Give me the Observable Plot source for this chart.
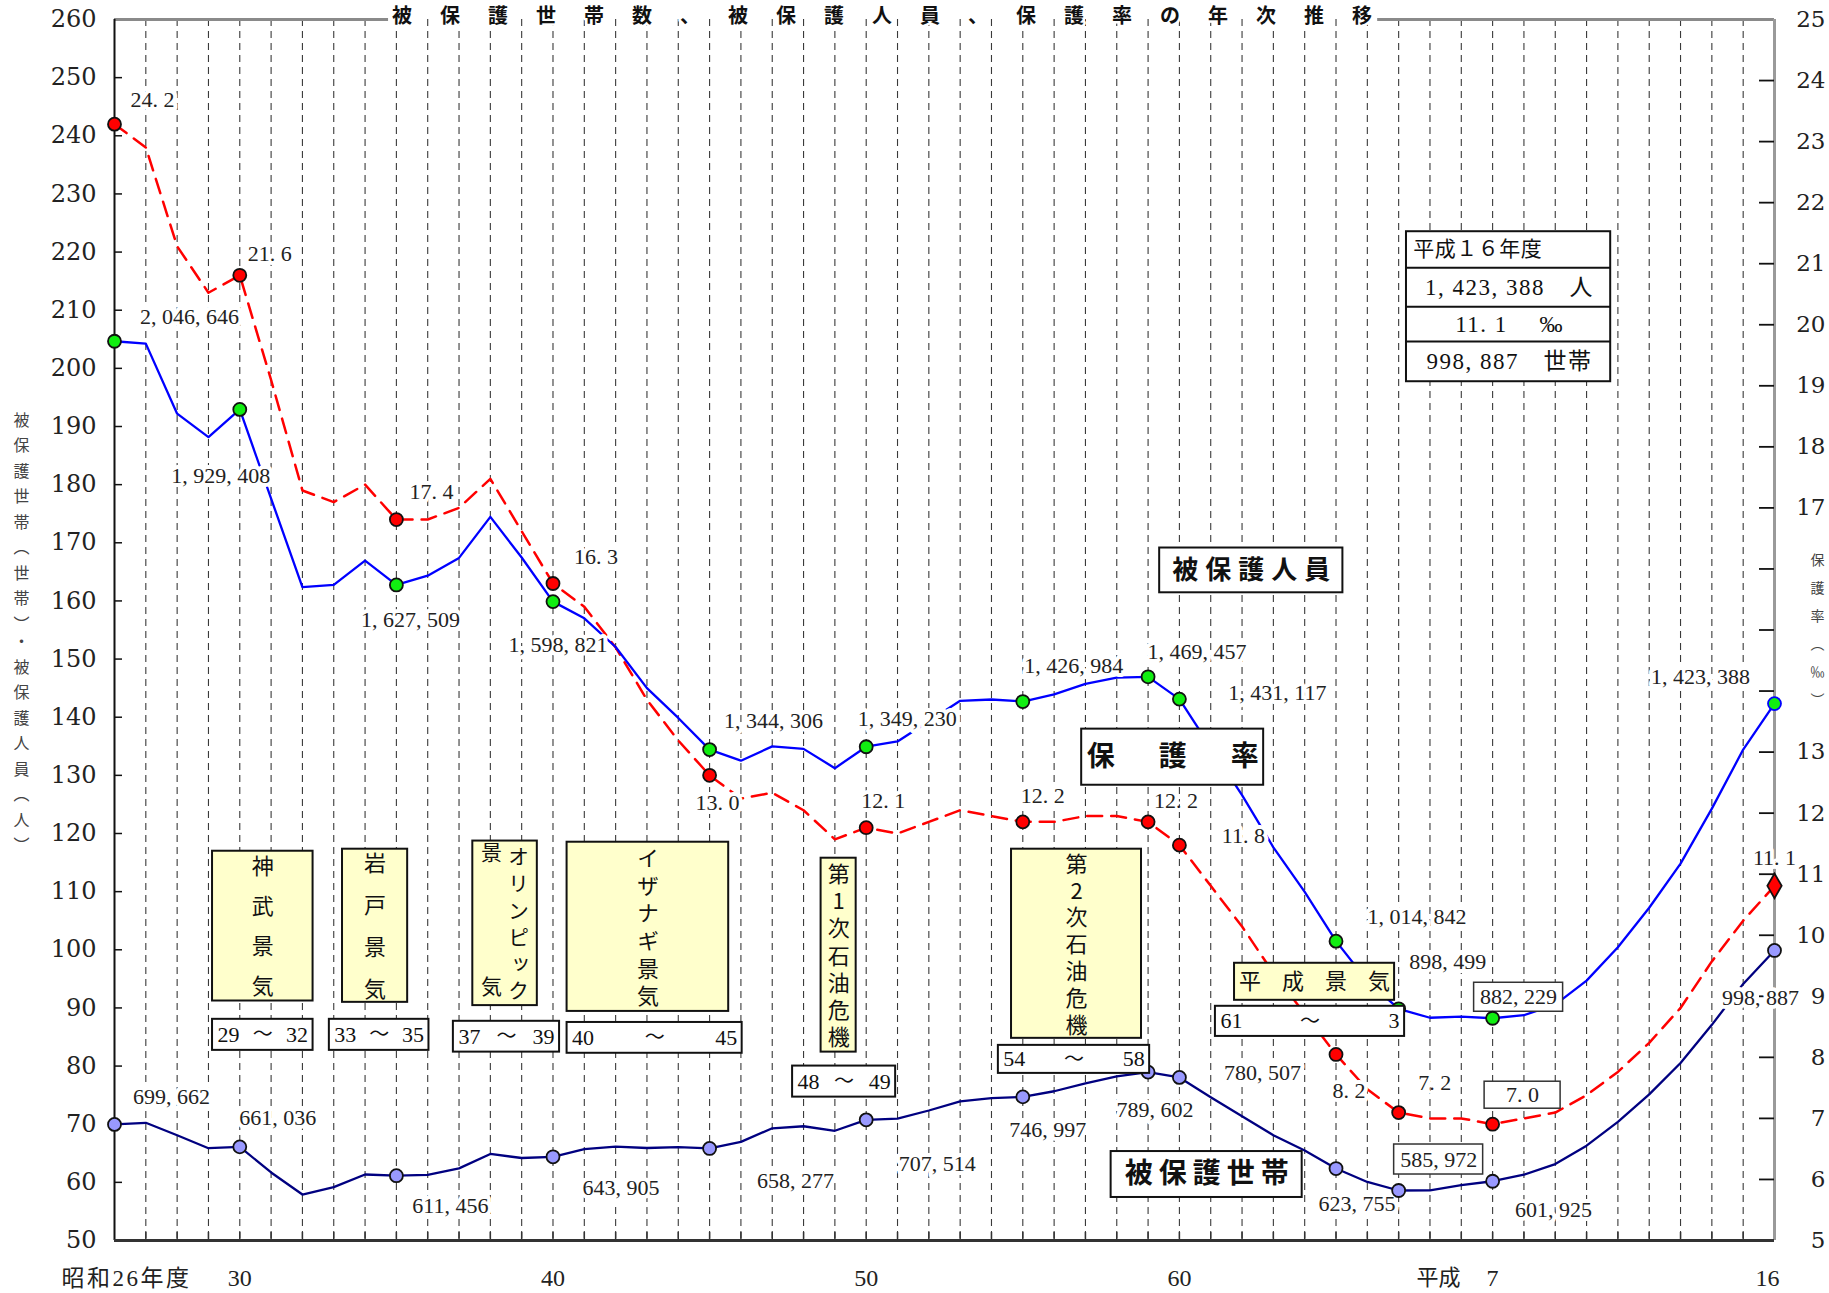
<!DOCTYPE html>
<html>
<head>
<meta charset="utf-8">
<script src="https://cdn.jsdelivr.net/npm/d3@7"></script>
<script src="https://cdn.jsdelivr.net/npm/@observablehq/plot@0.6"></script>
<style>
html,body{margin:0;padding:0;background:#fff;}
#chart svg{display:block;}
</style>
</head>
<body>
<div id="chart"></div>
<script>
// ================= DATA =================
// fiscal years on the Showa count: 26 (1951) ... 64 = Heisei 1 ... 79 = Heisei 16 (2004)
const years = d3.range(26, 80);

// 被保護人員 (persons)
const persons = [
  2046646, 2042550, 1922060, 1881687, 1929408, 1775971, 1623744, 1627571, 1669180, 1627509,
  1643445, 1674001, 1744639, 1674661, 1598821, 1570054, 1520733, 1449970, 1398725, 1344306,
  1325218, 1349811, 1345549, 1312339, 1349230, 1358316, 1393128, 1428261, 1430488, 1426984,
  1439226, 1457383, 1468245, 1469457, 1431117, 1348163, 1266126, 1176258, 1099520, 1014842,
  946374, 898499, 883112, 884912, 882229, 887450, 905589, 946994, 1004472, 1072241,
  1148088, 1242723, 1344327, 1423388
];

// 被保護世帯 (households)
const households = [
  699662, 702450, 680956, 658745, 661036, 617000, 579037, 591700, 613500, 611456,
  612700, 624000, 648800, 641900, 643905, 657200, 661600, 659100, 660500, 658277,
  669700, 693000, 696500, 688700, 707514, 709600, 723600, 739200, 744800, 746997,
  756700, 770400, 782300, 789602, 780507, 746400, 713800, 681000, 654900, 623755,
  600700, 585972, 586100, 595400, 601925, 613100, 631500, 663100, 704100, 751300,
  805200, 870900, 941300, 998887
];

// 保護率 (‰)
const rate = [
  24.2, 23.8, 22.1, 21.3, 21.6, 19.8, 17.9, 17.7, 18.0, 17.4,
  17.4, 17.6, 18.1, 17.2, 16.3, 15.9, 15.2, 14.3, 13.6, 13.0,
  12.6, 12.7, 12.4, 11.9, 12.1, 12.0, 12.2, 12.4, 12.3, 12.2,
  12.2, 12.3, 12.3, 12.2, 11.8, 11.1, 10.4, 9.6, 8.9, 8.2,
  7.6, 7.2, 7.1, 7.1, 7.0, 7.1, 7.2, 7.5, 7.9, 8.4,
  9.0, 9.8, 10.5, 11.1
];

const markedYears = [26, 30, 35, 40, 45, 50, 55, 59, 60, 65, 67, 70, 79];
const leftTicks = d3.range(50, 261, 10);
const rightTicks = d3.range(5, 26);
const rightTicksUnlabeled = [14, 15, 16];
const xTickLabels = [
  {year: 26, label: "昭和26年度"}, {year: 30, label: "30"}, {year: 40, label: "40"},
  {year: 50, label: "50"}, {year: 60, label: "60"}, {year: 70, label: "7"}, {year: 79, label: "16"}
];
const heiseiLabel = "平成";
const title = "被保護世帯数、被保護人員、保護率の年次推移";
const leftAxisTitle = "被保護世帯（世帯）・被保護人員（人）";
const rightAxisTitle = "保護率（‰）";
const booms = [
  {name: "神武景気", from: "29", to: "32"},
  {name: "岩戸景気", from: "33", to: "35"},
  {name: "オリンピック景気", from: "37", to: "39"},
  {name: "イザナギ景気", from: "40", to: "45"},
  {name: "第1次石油危機", from: "48", to: "49"},
  {name: "第2次石油危機", from: "54", to: "58"},
  {name: "平成景気", from: "61", to: "3"}
];
const seriesNames = ["被保護人員", "保護率", "被保護世帯"];
const summaryRows = ["平成１６年度", "1, 423, 388　人", "11. 1　 ‰", "998, 887　世帯"];

// ================= LAYOUT =================
const W = 1829, H = 1293;
const M = {left: 114, right: 55, top: 19, bottom: 53};
const kx = (W - M.left - M.right) / 53;   // px per year
const ky = (H - M.top - M.bottom) / 210;  // px per unit
const rateToY = r => 50 + (r - 5) * 10.5; // right-axis tick placement

const serif = "'Liberation Serif', 'Noto Sans CJK JP', serif";
const axisSerif = "'DejaVu Serif', 'Noto Sans CJK JP', serif";
const sans = "'Noto Sans CJK JP', 'Noto Sans', sans-serif";

const personsLabelPos = {26:[75,-24],30:[-19,67],35:[14,35],40:[5,43],45:[64,-29],50:[41,-28],55:[51,-36],59:[49,-25],60:[98,-6],65:[81,-24],67:[49,-47],70:[26,-21],79:[-74,-27]};
const householdsLabelPos = {26:[57,-27],30:[38,-29],35:[54,30],40:[68,31],45:[86,32],50:[71,44],55:[25,33],59:[7,38],60:[83,-4],65:[21,35],67:[40,-31],70:[61,29],79:[-14,48]};
const rateLabelPos = {26:[38,-24],30:[30,-21],35:[35,-28],40:[43,-27],45:[8,28],50:[17,-27],55:[20,-26],59:[28,-21],60:[64,-9],65:[13,37],67:[36,-30],70:[30,-29],79:[0,-28]};
const personsBoxed = {70: [89, 29]};
const householdsBoxed = {67: [89, 30]};
const rateBoxed = {70: [76, 27]};

// boxes in data units; font size + letter spacing for the vertical text
const boomLayout = [
  {box: [29.13, 32.34, 116.95, 91.19], range: [29.13, 32.34, 88.04, 82.70], fs: 22, ls: 18},
  {box: [33.28, 35.36, 117.3, 90.96], range: [32.86, 36.04, 88.04, 82.70], fs: 22, ls: 20},
  {box: [37.44, 39.50, 118.7, 90.4], range: [36.82, 40.21, 87.7, 82.4], fs: 21, ls: 5.8, split: 6, tailY: [116.56, 93.5]},
  {box: [40.45, 45.61, 118.5, 89.4], range: [40.45, 46.04, 87.5, 82.2], fs: 22, ls: 5.6},
  {box: [48.56, 49.68, 115.75, 82.4], range: [47.65, 50.94, 80.0, 74.66], fs: 22, ls: 5.2},
  {box: [54.64, 58.79, 117.3, 84.77], range: [54.22, 59.05, 83.56, 78.74], fs: 22, ls: 4.8},
  {box: [61.76, 66.87, 97.68, 91.31], range: [61.15, 67.19, 90.28, 85.1], fs: 22, ls: 21, horizontal: true}
];
const nameLayout = [
  {box: [59.37, 65.22, 169.1, 161.4], size: 26, ls: 7},
  {box: [56.88, 62.69, 137.95, 128.3], size: 28, ls: 44},
  {box: [57.82, 63.92, 65.3, 57.4], size: 28, ls: 6}
];
const summaryLayout = {x1: 67.25, x2: 73.77, rows: [223.5, 217.3, 210.6, 204.6, 197.7], textStart: 67.47};
const topFrameSegments = [{x1: 26, x2: 34.75}, {x1: 66.33, x2: 79}];

// ================= BUILD =================
const rows = years.map((year, i) => ({
  year, p: persons[i], h: households[i], r: rate[i],
  persons: persons[i] / 1e4, households: households[i] / 1e4, rate: rate[i] * 10
}));
const marked = rows.filter(d => markedYears.includes(d.year));
const fmtCount = v => d3.format(",")(v).replace(/,/g, ", ");
const fmtRate = v => v.toFixed(1).replace(".", ". ");
const ls = v => ({ariaDescription: "ls:" + v});
const vt = v => ({ariaDescription: "vt:" + v});

function labelMarks(key, textOf, posMap, boxedMap) {
  return marked.flatMap(d => {
    const [dx, dy] = posMap[d.year];
    const b = boxedMap[d.year];
    const out = [];
    if (b) {
      const cx = d.year + dx / kx, cy = d[key] - dy / ky;
      out.push(Plot.rect([d], {
        x1: () => cx - b[0] / 2 / kx, x2: () => cx + b[0] / 2 / kx,
        y1: () => cy - b[1] / 2 / ky, y2: () => cy + b[1] / 2 / ky,
        fill: "white", stroke: "#333", strokeWidth: 1.5
      }));
      out.push(Plot.text([d], {x: "year", y: key, text: textOf, dx, dy, fontSize: 22, fontFamily: serif, fill: "#222"}));
    } else {
      out.push(Plot.text([d], {x: "year", y: key, text: textOf, dx, dy, fontSize: 22, fontFamily: serif,
        fill: "#222", stroke: "white", strokeWidth: 8, paintOrder: "stroke"}));
    }
    return out;
  });
}

// annotation boxes
const boomMarks = booms.flatMap((b, i) => {
  const L = boomLayout[i];
  const [bx1, bx2, by1, by2] = L.box;
  const [rx1, rx2, ry1, ry2] = L.range;
  const cx = (bx1 + bx2) / 2, cy = (by1 + by2) / 2;
  const rcy = (ry1 + ry2) / 2;
  const out = [
    Plot.rect([b], {x1: () => bx1, x2: () => bx2, y1: () => by1, y2: () => by2, fill: "#ffffcc", stroke: "#111", strokeWidth: 2}),
    Plot.rect([b], {x1: () => rx1, x2: () => rx2, y1: () => ry1, y2: () => ry2, fill: "white", stroke: "#111", strokeWidth: 2}),
    Plot.text([b], {x: () => rx1, y: () => rcy, text: "from", textAnchor: "start", dx: 5, fontSize: 22, fontFamily: serif, fill: "#111"}),
    Plot.text([b], {x: () => (rx1 + rx2) / 2, y: () => rcy, text: () => "～", fontSize: 20, fontFamily: sans, fill: "#111"}),
    Plot.text([b], {x: () => rx2, y: () => rcy, text: "to", textAnchor: "end", dx: -5, fontSize: 22, fontFamily: serif, fill: "#111"})
  ];
  if (L.horizontal) {
    out.push(Plot.text([b], {x: () => cx, y: () => cy, text: "name", dx: L.ls / 2, fontSize: L.fs, fontFamily: sans, fill: "#111", ...ls(L.ls)}));
  } else if (L.split) {
    const main = b.name.slice(0, L.split), tail = b.name.slice(L.split);
    const colW = 13.5 / kx;
    out.push(Plot.text([b], {x: () => cx + colW, y: () => cy, text: () => main, fontSize: L.fs, fontFamily: sans, fill: "#111", ...vt(L.ls)}));
    out.push(Plot.text([b], {x: () => cx - colW, y: () => L.tailY[0], text: () => tail[0], fontSize: L.fs, fontFamily: sans, fill: "#111"}));
    out.push(Plot.text([b], {x: () => cx - colW, y: () => L.tailY[1], text: () => tail[1], fontSize: L.fs, fontFamily: sans, fill: "#111"}));
  } else {
    out.push(Plot.text([b], {x: () => cx, y: () => cy, text: "name", fontSize: L.fs, fontFamily: sans, fill: "#111", ...vt(L.ls)}));
  }
  return out;
});

const nameMarks = seriesNames.flatMap((name, i) => {
  const L = nameLayout[i];
  const [x1, x2, y1, y2] = L.box;
  return [
    Plot.rect([name], {x1: () => x1, x2: () => x2, y1: () => y1, y2: () => y2, fill: "white", stroke: "#111", strokeWidth: 2}),
    Plot.text([name], {x: () => (x1 + x2) / 2, y: () => (y1 + y2) / 2, text: d => d, dx: L.ls / 2, fontSize: L.size, fontWeight: 700, fontFamily: sans, fill: "#111", ...ls(L.ls)})
  ];
});

const S = summaryLayout;
const summaryMarks = [
  Plot.rect([0], {x1: () => S.x1, x2: () => S.x2, y1: () => S.rows[0], y2: () => S.rows[4], fill: "white", stroke: "#111", strokeWidth: 2}),
  Plot.ruleY(S.rows.slice(1, 4), {x1: () => S.x1, x2: () => S.x2, stroke: "#111", strokeWidth: 2}),
  ...summaryRows.map((t, i) => Plot.text([t], {
    x: () => i === 0 ? S.textStart : (S.x1 + S.x2) / 2,
    y: () => (S.rows[i] + S.rows[i + 1]) / 2,
    text: d => d, textAnchor: i === 0 ? "start" : "middle", dx: i === 0 ? 0 : 1,
    fontSize: i === 0 ? 21 : 23, fontFamily: serif, fill: "#111", ...ls(i === 0 ? 0.5 : 1.5)
  }))
];

const plot = Plot.plot({
  width: W, height: H,
  marginLeft: M.left, marginRight: M.right, marginTop: M.top, marginBottom: M.bottom,
  x: {domain: [26, 79], axis: null},
  y: {domain: [50, 260], axis: null},
  style: {background: "white", fontFamily: serif},
  marks: [
    // vertical dashed grid
    Plot.ruleX(d3.range(27, 79), {stroke: "#3a3a3a", strokeWidth: 1.1, strokeDasharray: "7,5"}),
    // frame
    Plot.ruleY(topFrameSegments, {y: () => 260, x1: "x1", x2: "x2", stroke: "#8a8a8a", strokeWidth: 3}),
    Plot.ruleX([79], {stroke: "#9a9a9a", strokeWidth: 3}),
    Plot.ruleX([26], {stroke: "#111", strokeWidth: 2}),
    Plot.ruleY([50], {stroke: "#333", strokeWidth: 3}),
    // ticks
    Plot.ruleY(leftTicks.slice(1, -1), {x1: () => 26, x2: () => 26 + 8 / kx, stroke: "#111", strokeWidth: 1.5}),
    Plot.ruleY(rightTicks.slice(1, -1).map(rateToY), {x1: () => 79 - 15 / kx, x2: () => 79, stroke: "#111", strokeWidth: 1.8}),
    Plot.ruleX(d3.range(27, 79), {y1: () => 50, y2: () => 50 + 8 / ky, stroke: "#333", strokeWidth: 1.5}),
    // axis labels
    Plot.text(leftTicks, {x: () => 26, y: d => d, text: d => String(d), textAnchor: "end", dx: -18, fontSize: 24, fontFamily: axisSerif, fill: "#222"}),
    Plot.text(rightTicks.filter(r => !rightTicksUnlabeled.includes(r)), {x: () => 79, y: d => rateToY(d), text: d => String(d), textAnchor: "end", dx: 51, fontSize: 23, fontFamily: axisSerif, fill: "#222"}),
    Plot.text(xTickLabels.filter(d => d.year !== 26 && d.year !== 79), {x: "year", y: () => 50, text: "label", dy: 38, fontSize: 24, fontFamily: serif, fill: "#222"}),
    Plot.text(xTickLabels.filter(d => d.year === 26), {x: "year", y: () => 50, text: "label", dy: 38, dx: 12, fontSize: 23, fontFamily: serif, fill: "#222", ...ls(2.5)}),
    Plot.text(xTickLabels.filter(d => d.year === 79), {x: "year", y: () => 50, text: "label", dy: 38, dx: -7, fontSize: 24, fontFamily: serif, fill: "#222"}),
    Plot.text([heiseiLabel], {x: () => 70, y: () => 50, text: d => d, dy: 37, dx: -54, fontSize: 22, fontFamily: sans, fill: "#222"}),
    Plot.text([leftAxisTitle], {x: () => 26, y: () => 154.6, text: d => d, dx: -93, fontSize: 16, fontFamily: sans, fill: "#444", ...vt(9.5)}),
    Plot.text([rightAxisTitle], {x: () => 79, y: () => 155, text: d => d, dx: 43, fontSize: 14, fontFamily: sans, fill: "#444", ...vt(14)}),
    // title
    Plot.text([title], {x: () => 50.95, y: () => 260, text: d => d, dy: -3, fontSize: 20, fontWeight: 700, fontFamily: sans, fill: "#111", stroke: "white", strokeWidth: 5, paintOrder: "stroke", ...ls(28)}),
    // series lines
    Plot.line(rows, {x: "year", y: "rate", stroke: "#ff0000", strokeWidth: 2.5, strokeDasharray: "15,9"}),
    Plot.line(rows, {x: "year", y: "persons", stroke: "#0000ff", strokeWidth: 2.3}),
    Plot.line(rows, {x: "year", y: "households", stroke: "#000080", strokeWidth: 2.3}),
    // value labels
    ...labelMarks("persons", d => fmtCount(d.p), personsLabelPos, personsBoxed),
    ...labelMarks("households", d => fmtCount(d.h), householdsLabelPos, householdsBoxed),
    ...labelMarks("rate", d => fmtRate(d.r), rateLabelPos, rateBoxed),
    // markers
    Plot.dot(marked.filter(d => d.year !== 79), {x: "year", y: "rate", r: 6.5, fill: "#ff0000", stroke: "#111", strokeWidth: 1.8}),
    Plot.dot(marked.filter(d => d.year === 79), {x: "year", y: "rate", r: 7.5, symbol: "diamond", fill: "#ff0000", stroke: "#111", strokeWidth: 1.8}),
    Plot.dot(marked, {x: "year", y: "persons", r: 6.5, fill: "#11ee11", stroke: d => d.year === 79 ? "#0000ff" : "#111", strokeWidth: 1.8}),
    Plot.dot(marked, {x: "year", y: "households", r: 6.5, fill: "#9999ff", stroke: "#111", strokeWidth: 1.8}),
    // annotations
    ...boomMarks,
    ...nameMarks,
    ...summaryMarks
  ]
});

plot.querySelectorAll("g[aria-description]").forEach(g => {
  const m = /^(ls|vt):(.+)$/.exec(g.getAttribute("aria-description"));
  if (!m) return;
  const v = +m[2];
  g.querySelectorAll("text").forEach(t => {
    t.setAttribute("letter-spacing", v);
    if (m[1] === "vt") {
      t.setAttribute("writing-mode", "tb");
      t.style.writingMode = "vertical-rl";
      t.style.textOrientation = "upright";
      t.setAttribute("glyph-orientation-vertical", "0");
      t.removeAttribute("dy");
      t.setAttribute("y", String(v / 2));
    }
  });
});

document.getElementById("chart").appendChild(plot);
</script>
</body>
</html>
